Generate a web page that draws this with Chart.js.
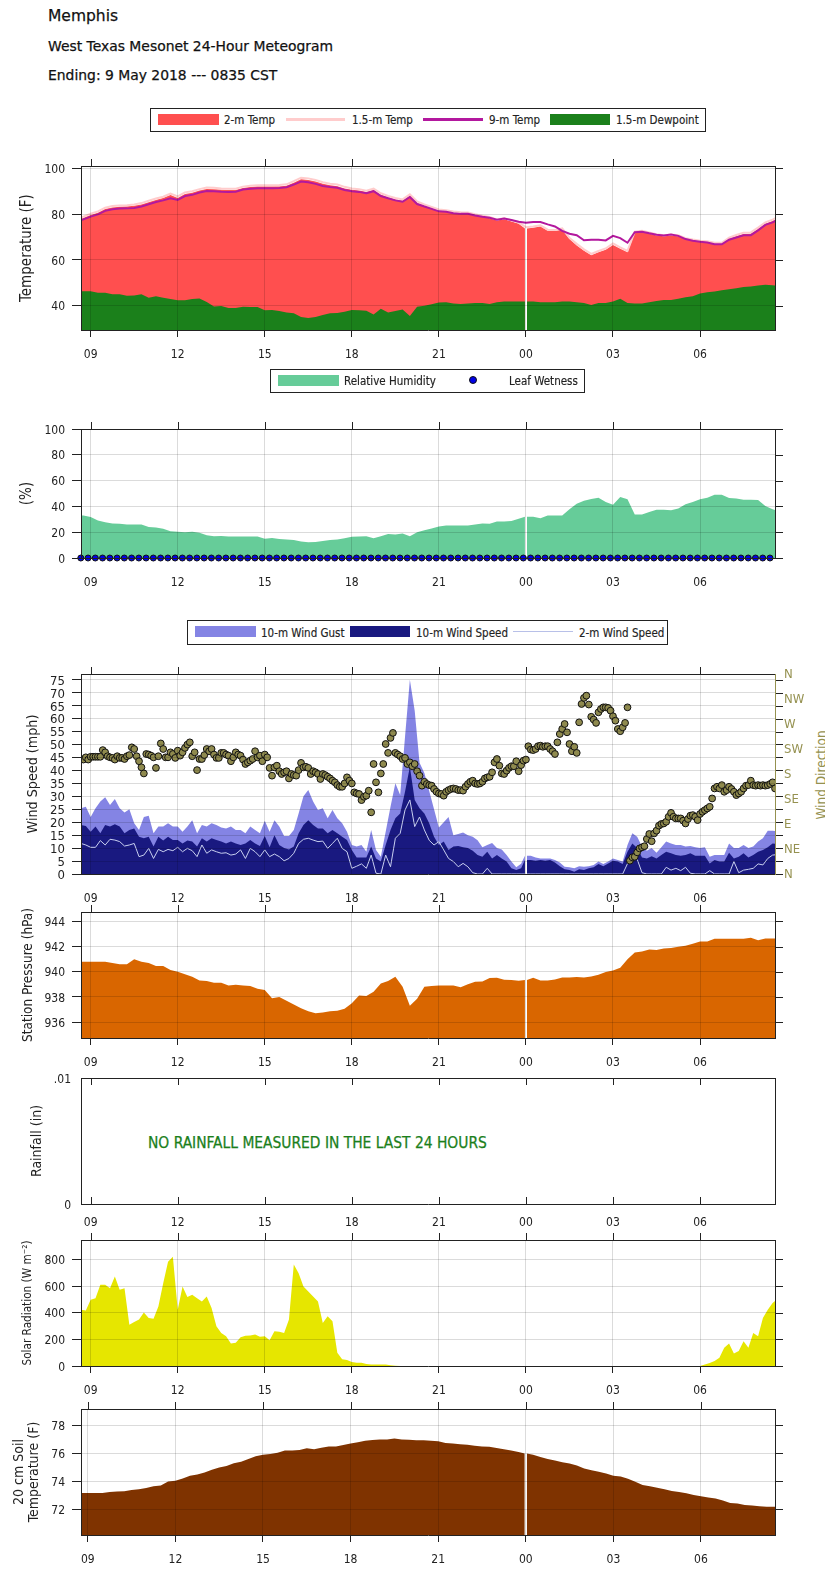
<!DOCTYPE html>
<html>
<head>
<meta charset="utf-8">
<title>Memphis 24-Hour Meteogram</title>
<script src="https://cdn.jsdelivr.net/npm/chart.js"></script>
<style>
    html, body { margin: 0; padding: 0; background: #fff; }
    body { position: relative; width: 825px; height: 1575px; overflow: hidden; color: #111;
        font-family: "DejaVu Sans Condensed", "DejaVu Sans", sans-serif; }
    canvas { position: absolute; left: 0; }
    .head { position: absolute; left: 48px; white-space: nowrap; line-height: 16px;
        font-family: "DejaVu Sans", sans-serif; -webkit-text-stroke: 0.25px #111; }
    .box { position: absolute; border: 1px solid #222; box-sizing: border-box; }
    .swatch { position: absolute; box-sizing: border-box; }
    .lg { position: absolute; font-size: 11.5px; line-height: 14px; color: #222; white-space: nowrap; -webkit-text-stroke: 0.15px #222; }
    .rain { position: absolute; left: 148px; top: 1134px; font-size: 15.4px; line-height: 18px; color: #1b801b; white-space: nowrap; -webkit-text-stroke: 0.25px #1b801b; }
    .dirtitle { position: absolute; left: 821px; top: 775px; font-size: 13.5px; color: #959150; white-space: nowrap;
        transform: translate(-50%, -50%) rotate(-90deg); }
</style>
</head>
<body>
<div class="head" style="top:8px;font-size:15.5px">Memphis</div>
<div class="head" style="top:38px;font-size:13.9px">West Texas Mesonet 24-Hour Meteogram</div>
<div class="head" style="top:67px;font-size:13.9px">Ending: 9 May 2018 --- 0835 CST</div>
<div class="rain">NO RAINFALL MEASURED IN THE LAST 24 HOURS</div>
<div class="dirtitle">Wind Direction</div>
<script>
// hour ticks, every 3 h from 09 CST
const tickLabels = ['09', '12', '15', '18', '21', '00', '03', '06']
const compass = ['N', 'NE', 'E', 'SE', 'S', 'SW', 'W', 'NW', 'N']

// 15 minute readings, one row per hour, starting 0830
const temp2m = [
    77.0,78.3,79.6,80.6, 82.2,82.9,83.2,83.3, 83.6,84.2,85.2,86.2, 87.0,88.3,87.0,88.8,
    89.3,90.3,91.0,90.9, 90.6,90.5,90.5,91.4, 91.8,92.0,92.0,92.0, 92.1,92.4,93.7,95.2,
    94.9,94.2,93.2,92.6, 92.2,91.2,90.6,90.3, 89.6,90.5,88.5,87.3, 86.4,85.8,88.0,84.9,
    83.7,82.6,81.5,81.2, 80.6,80.3,80.3,79.5, 78.9,78.2,77.2,77.7, 76.8,75.8,73.7,74.0,
    74.6,72.7,72.6,73.2, 69.1,66.3,64.0,62.0, 63.3,64.4,66.5,64.9, 63.3,71.8,72.2,71.5,
    70.7,70.3,70.6,70.3, 69.0,68.4,67.9,67.7, 67.0,67.0,69.2,70.3, 71.3,71.4,73.5,75.8,
    77.0,78.6]
const temp15m = [
    77.5,78.9,80.2,81.2, 82.8,83.5,83.8,83.9, 84.2,84.8,85.8,86.8, 87.6,89.0,87.7,89.5,
    90.0,90.9,91.6,91.5, 91.2,91.1,91.1,92.0, 92.4,92.6,92.6,92.6, 92.7,93.0,94.4,95.9,
    95.6,94.9,93.9,93.3, 92.9,91.9,91.2,90.9, 90.2,91.1,89.1,87.9, 87.0,86.4,88.6,85.5,
    84.2,83.1,82.0,81.7, 81.1,80.8,80.7,79.9, 79.3,78.7,77.7,78.2, 77.3,76.3,74.3,74.6,
    75.1,73.2,73.1,73.8, 69.6,67.0,64.6,62.6, 63.9,65.0,67.2,65.5, 63.9,72.3,72.7,72.0,
    71.2,70.8,71.1,70.8, 69.5,68.9,68.4,68.2, 67.5,67.5,69.7,70.9, 71.9,72.0,74.1,76.4,
    77.6,79.2]
const temp9m = [
    76.5,77.7,78.9,79.9, 81.4,82.1,82.4,82.5, 82.7,83.3,84.3,85.3, 86.0,86.9,86.2,87.9,
    88.4,89.4,90.1,90.0, 89.8,89.7,89.8,90.7, 91.1,91.3,91.3,91.3, 91.4,91.7,92.9,94.2,
    93.9,93.2,92.3,91.8, 91.5,90.5,90.0,89.7, 89.1,90.0,87.9,86.9, 86.0,85.4,87.5,84.4,
    83.3,82.3,81.2,81.0, 80.4,80.1,80.1,79.4, 78.8,78.4,77.5,78.1, 77.4,76.7,76.2,76.5,
    76.5,75.5,74.6,72.7, 71.4,70.8,68.6,68.8, 68.8,68.5,70.5,69.5, 67.5,72.1,72.3,71.6,
    71.0,70.7,71.1,70.5, 69.1,68.4,67.9,67.6, 66.8,66.8,68.8,69.8, 70.8,70.8,72.9,75.3,
    76.4,78.0]
const dewpoint = [
    46.3,46.3,46.3,45.7, 45.7,45.0,45.0,44.3, 44.5,45.0,43.5,44.1, 43.5,42.9,42.4,42.4,
    42.9,43.1,41.6,39.7, 39.9,39.0,39.0,39.6, 39.4,39.4,38.0,38.1, 37.7,37.0,36.7,35.1,
    34.6,35.1,36.0,36.7, 36.8,37.4,38.1,38.0, 37.8,36.2,38.7,37.0, 37.7,38.4,35.5,39.5,
    40.0,40.6,41.4,41.5, 41.0,40.8,41.0,41.2, 41.2,40.8,41.5,41.8, 41.8,41.8,41.8,41.8,
    41.5,41.5,41.5,41.8, 41.8,41.5,41.2,40.3, 41.2,41.2,41.8,43.0, 41.2,41.0,41.0,41.5,
    42.1,42.5,42.5,43.0, 43.7,44.1,45.3,45.9, 46.2,46.8,47.2,47.6, 48.2,48.4,48.8,49.2,
    48.9,48.8]
const humidity = [
    33,33,31.7,29, 27.8,26.8,26.5,26, 26,26,24,23.6, 22.6,20.8,20.3,20,
    20.3,19.5,17.7,16.9, 17.1,16.6,16.6,16.6, 16.6,16.6,15,15.6, 14.8,14.3,14,12.7,
    12.2,12.5,13.2,14, 14.3,15.3,16.4,16.6, 16.9,15.3,16.9,18.7, 18.2,19,16.9,20,
    21.6,22.9,24.4,25.2, 25.2,25.2,25.2,26, 26.8,26.5,28.3,28.3, 28.6,30.4,31.9,31.9,
    30.9,33,33,33, 37.7,42,44.4,45.7, 46.8,43.4,41.3,47.3, 45.5,33.8,33.8,35.6,
    37.4,37.4,37.1,38.4, 41.6,43.4,45.5,46.8, 49.1,49.1,46.5,46.2, 45.2,45.2,44.9,40.3,
    37.7,36.5]
const pressure = [
    940.8,940.8,940.8,940.8, 940.8,940.7,940.6,940.6, 941.0,940.8,940.7,940.45, 940.45,940.13,940.0,939.8,
    939.6,939.3,939.26,939.13, 939.13,938.9,938.97,938.9, 938.87,938.65,938.55,937.9, 938.0,937.7,937.4,937.1,
    936.85,936.7,936.75,936.85, 936.9,937.06,937.5,938.1, 938.07,938.4,939.07,939.26, 939.6,938.8,937.3,937.86,
    938.8,938.86,938.9,938.9, 938.9,938.76,939.0,939.2, 939.23,939.5,939.52,939.37, 939.34,939.29,939.34,939.52,
    939.31,939.31,939.39,939.55, 939.55,939.58,939.55,939.63, 939.76,939.97,940.1,940.32, 941.0,941.53,941.6,941.77,
    941.72,941.85,941.88,941.98, 942.06,942.22,942.4,942.4, 942.62,942.62,942.62,942.62, 942.62,942.7,942.5,942.65,
    942.65,942.65]
const soilTemp = [
    73.17,73.17,73.17,73.17, 73.17,73.25,73.27,73.3, 73.38,73.43,73.53,73.65, 73.7,74.0,74.05,74.2,
    74.4,74.5,74.64,74.83, 75.0,75.1,75.3,75.4, 75.6,75.8,75.9,75.96, 76.05,76.2,76.2,76.25,
    76.36,76.3,76.4,76.5, 76.5,76.6,76.7,76.8, 76.9,76.95,77.0,77.0, 77.07,77.0,76.98,76.93,
    76.93,76.9,76.86,76.74, 76.7,76.65,76.62,76.55, 76.5,76.48,76.39,76.3, 76.2,76.1,76.0,75.9,
    75.75,75.6,75.5,75.37, 75.28,75.13,74.92,74.8, 74.69,74.57,74.4,74.35, 74.19,73.98,73.74,73.65,
    73.55,73.43,73.31,73.24, 73.15,73.03,72.94,72.84, 72.77,72.63,72.46,72.42, 72.32,72.27,72.23,72.18,
    72.18,72.18]
const leafWetness = [
    0,0,0,0,0,0,0,0,0,0,0,0,0,0,0,0,0,0,0,0,0,0,0,0,
    0,0,0,0,0,0,0,0,0,0,0,0,0,0,0,0,0,0,0,0,0,0,0,0,
    0,0,0,0,0,0,0,0,0,0,0,0,0,0,0,0,0,0,0,0,0,0,0,0,
    0,0,0,0,0,0,0,0,0,0,0,0,0,0,0,0,0,0,0,0,0,0,0,0]

// 10 minute readings, one row per hour, starting 0830
const windGust = [
    25.4,25.4,26,22,25.4,28, 29.6,26.6,29,25.4,23.7,25, 19.6,17,22,22.5,15.7,18.3,
    18.3,19.6,18.3,18.3,16.3,18.3, 20.8,15.7,18.9,18.3,19.6,18.9, 18,17.6,18.3,17,17,15.7,
    18.3,17,15.7,20.6,16.3,20.8, 18.3,14.7,14.7,17,23.4,30, 32.4,28,24.7,25.4,21.5,24.7,
    21.5,19.6,16.3,11.2,10.6,11.2, 8.6,17,9.3,6.7,16.3,26, 35,30.5,53,75,63,43,
    39,32,25,18,20,22, 15,15.4,16,15,14.4,13, 10.3,11.2,12,10,9.5,7.3,
    4.8,2.6,4,7,7,6.4, 6,6,6,5.4,4.4,2.8, 2.6,2.2,3,2.8,3,3.5,
    4.8,3.9,4.8,6,5.4,4.8, 11.2,15.7,14.4,10.6,9,10, 8.2,10.3,12.5,11.8,11.2,11.2,
    10.6,10.8,10.3,10,10.3,6.7, 7.3,7.3,7.3,11.8,10,10, 11.2,10,10.6,12.5,13.8,16.7,
    16.7,16.5]
const windSpeed = [
    18.9,18.9,18.5,16.3,18.3,15.7, 18.9,18.3,19.2,18.3,15.7,17, 17.6,14.4,13.8,14.4,10.6,14.4,
    12.9,14.4,13.1,13.1,11.8,12.9, 12.5,10.6,13.8,12.5,13.8,13.1, 12.5,11.8,12.5,11.8,11.2,11.8,
    13.1,11.8,10.8,14.7,10.3,15, 11.2,10,9.5,10.6,15.7,18.9, 20.8,18.9,17.6,17.6,15.7,17,
    15.7,14.4,13.1,9.3,6.4,6.4, 6.4,10.6,6,4.8,11.2,17, 21.5,23.4,31.8,41.4,28.6,25.4,
    23.4,19.6,14.4,11.2,12.5,9.3, 10.6,10.8,10.3,10,9,7.3, 6.7,8.6,6,7.3,6,4.8,
    2.2,1.5,2.2,5.4,5.4,5.1, 5.4,5.1,5.4,4.4,3,1.8, 1.5,0.9,1.8,1.5,2.2,2.6,
    3.9,3,4.1,5.1,4.8,3.9, 8.6,11.8,10,6.4,6,6.9, 6,7.3,8.6,8,7.3,7,
    7.3,8,7,7,7,4.1, 5.4,4.8,4.8,8.2,6,6.7, 8,6.4,7.3,8.6,9.3,10.3,
    11.8,11.5]
const wind2m = [
    11.8,11.8,11.2,10.3,10.3,12.9, 11.2,13.4,13.1,12.5,10.8,11.2, 11.8,6.7,7.3,9.9,6,9.5,
    8.6,9.5,9,10.3,8.6,9.9, 9,6.7,11.2,8,9.3,8.6, 8,8.2,7.3,7.7,9.3,6,
    9.9,8.6,6.7,9.3,6.7,7.7, 6.7,5.1,6,8,11.8,13.4, 13.8,13.1,12.5,12.7,9.9,11.8,
    13.8,9.9,8.6,2.2,3,3.9, 2.2,7.3,0.3,0,7.3,2.8, 13.8,15.7,24.7,28.6,18.3,22,
    17,13,11.2,12.5,9.3,6, 4.8,2.8,4.1,2.8,0.5,0, 0,2.2,0,0,0,0,
    0,0,0,0,0,0, 0,0,0,0,0,0, 0,0,0,0,0,0,
    0,0,0,0,0,0, 4,6,5.7,0.5,0,0, 0,0,2.6,1.5,2.2,1.3,
    2.6,0.3,0,0,0,1.3, 0,0,0,0,4.8,0.5, 1.5,1.8,2.2,3.9,3.5,6,
    7.3,7.5]
const solar = [
    422,422,417,497,509,609, 609,584,671,571,584,310, 330,348,402,360,355,447,
    621,782,820,422,596,517, 534,509,484,522,435,298, 248,224,169,174,216,226,
    228,236,219,224,194,261, 256,248,348,762,696,596, 559,522,484,323,373,335,
    99,50,45,30,25,25, 15,12,12,12,12,5, 2,0,0,0,0,0,
    0,0,0,0,0,0, 0,0,0,0,0,0, 0,0,0,0,0,0,
    0,0,0,0,0,0, 0,0,0,0,0,0, 0,0,0,0,0,0,
    0,0,0,0,0,0, 0,0,0,0,0,0, 0,0,0,0,0,0,
    0,0,0,0,12,22, 37,62,137,169,94,112, 186,137,248,224,360,422,
    472,505]
const rainfall = []

// 5 minute wind direction in degrees, starting 0840
const windDir = [
    207,206,210,206,211,211,211,211,211,223,219,212, 210,209,206,212,209,209,207,212,214,228,225,212,
    203,192,181,216,215,213,210,191,212,235,225,210, 210,219,216,209,222,213,219,227,233,237,212,219,
    187,207,207,214,225,221,225,215,209,209,218,218, 215,213,203,210,219,215,213,206,198,201,204,207,
    221,210,213,203,215,210,191,177,192,195,185,180, 183,185,172,180,178,177,187,200,192,193,191,180,
    185,183,180,171,180,178,175,172,168,165,160,157, 157,163,174,168,163,147,145,144,133,139,141,150,
    111,198,165,147,181,198,234,218,245,254,218,215, 212,207,209,198,201,194,198,185,177,159,166,162,
    160,159,153,148,145,144,141,148,151,153,154,153, 151,151,150,157,162,166,168,163,162,163,166,172,
    174,175,183,201,207,195,181,180,186,191,194,194, 203,185,196,204,206,230,224,223,225,230,231,229,
    230,230,225,221,216,237,252,261,270,255,234,221, 229,218,273,306,317,321,305,283,278,272,291,297,
    300,300,299,294,284,276,261,257,264,272,300,24, 30,31,39,46,48,50,63,72,59,73,78,87,
    90,91,94,103,110,103,100,100,100,96,91,99, 105,106,103,97,108,112,115,118,121,136,154,157,
    154,160,148,151,157,153,148,142,145,148,154,159, 160,168,160,159,160,159,160,159,160,162,165,154,
    163]

// time lists in hours after 09 CST
const quarterHours = temp2m.map((_, i) => -0.5 + i / 4)
const tenMinHours = windGust.map((_, i) => -0.5 + i / 6)
const dirHours = windDir.map((_, i) => -1 / 3 + i / 12)
const leafHours = leafWetness.map((_, i) => -0.34 + i / 4)

const fontFamily = '"DejaVu Sans Condensed", "DejaVu Sans", sans-serif'
const textColor = '#222'
const gridColor = 'rgba(0,0,0,0.14)'
const olive = '#959150'

function points(hours, values) {
    return values.map((v, i) => ({x: hours[i], y: v}))
}

// the record has a short break at midnight
function withBreak(hours, values) {
    const out = []
    values.forEach((v, i) => {
        if (Math.abs(hours[i] - 15) < 0.001) {
            out.push({x: 14.965, y: v}, {x: 15, y: null}, {x: 15.035, y: v})
        } else {
            out.push({x: hours[i], y: v})
        }
    })
    return out
}

function area(label, data, color) {
    return {label, data, backgroundColor: color, borderWidth: 0, fill: 'start', pointRadius: 0, tension: 0, spanGaps: false}
}
function line(label, data, color, width) {
    return {label, data, borderColor: color, borderWidth: width, fill: false, pointRadius: 0, tension: 0}
}
function dots(label, data, color, radius, extra) {
    return Object.assign({label, data, showLine: false, backgroundColor: color, borderColor: '#111', borderWidth: 1, pointRadius: radius}, extra)
}

// top and right tick marks and the closed frame
const framePlugin = {
    id: 'frame',
    afterDraw(chart, args, opts) {
        const {left, right, top, bottom} = chart.chartArea
        const ctx = chart.ctx
        ctx.save()
        ctx.lineWidth = 1
        ctx.strokeStyle = '#222'
        ctx.beginPath()
        chart.scales.x.ticks.forEach(t => {
            const x = Math.round(chart.scales.x.getPixelForValue(t.value)) + 0.5
            if (opts.inward) {
                ctx.moveTo(x, top)
                ctx.lineTo(x, top + 7)
                ctx.moveTo(x, bottom)
                ctx.lineTo(x, bottom - 7)
            } else {
                ctx.moveTo(x, top - 7)
                ctx.lineTo(x, top)
            }
        })
        ctx.moveTo(left, top + 0.5)
        ctx.lineTo(right, top + 0.5)
        if (!opts.inward) {
            chart.scales.y.ticks.forEach(t => {
                const y = Math.round(chart.scales.y.getPixelForValue(t.value)) + 0.5
                ctx.moveTo(right, y)
                ctx.lineTo(right + 8, y)
            })
        }
        ctx.stroke()
        ctx.strokeStyle = opts.rightColor || '#222'
        ctx.beginPath()
        ctx.moveTo(right + 0.5, top)
        ctx.lineTo(right + 0.5, bottom + 1)
        ctx.stroke()
        ctx.restore()
    }
}

function makePanel(top, bottom, cfg) {
    const canvas = document.createElement('canvas')
    const topPad = 12
    const bottomPad = 40
    const height = bottom - top + topPad + bottomPad
    canvas.width = 825
    canvas.height = height
    canvas.style.top = (top - topPad) + 'px'
    document.body.appendChild(canvas)

    const plain = cfg.plain === true
    const xTickColor = cfg.noBottomTicks ? 'rgba(0,0,0,0)' : '#222'
    const titleSize = cfg.titleSize || 13
    const titleLine = Math.round(titleSize * 1.1)

    const scales = {
        x: {
            type: 'linear',
            min: cfg.xMin === undefined ? -0.333 : cfg.xMin,
            max: cfg.xMax === undefined ? 23.583 : cfg.xMax,
            afterFit(s) { s.height = bottomPad; s.paddingLeft = 0; s.paddingRight = 0 },
            grid: {color: gridColor, lineWidth: 1, z: 1, drawOnChartArea: !plain, drawTicks: !plain, tickLength: 7, tickColor: xTickColor, tickWidth: 1},
            border: {color: '#222', z: 2},
            ticks: {
                stepSize: 3, includeBounds: false, autoSkip: false, maxRotation: 0, minRotation: 0,
                padding: plain ? 12 : 11,
                color: textColor,
                font: {family: fontFamily, size: 12},
                callback: v => tickLabels[v / 3]
            }
        },
        y: {
            min: cfg.yMin,
            max: cfg.yMax,
            afterFit(s) { s.width = 81; s.paddingTop = 0; s.paddingBottom = 0 },
            grid: {color: gridColor, lineWidth: 1, z: 1, drawOnChartArea: !plain, drawTicks: !plain, tickLength: 9, tickColor: '#222', tickWidth: 1},
            border: {color: '#222', z: 2},
            title: {
                display: true,
                text: cfg.title,
                color: textColor,
                font: {family: fontFamily, size: titleSize, lineHeight: titleLine + 'px'},
                padding: {top: cfg.titleX - titleLine / 2, bottom: 0}
            },
            ticks: {
                stepSize: cfg.yStep, includeBounds: false, autoSkip: false,
                padding: plain ? 10 : 7,
                labelOffset: 1.5,
                color: textColor,
                font: {family: fontFamily, size: cfg.yFont || 12},
                callback: cfg.yLabel || (v => String(v))
            }
        }
    }
    if (cfg.y2) {
        scales.y2 = {
            position: 'right',
            min: 0,
            max: 360,
            afterFit(s) { s.width = 50; s.paddingTop = 0; s.paddingBottom = 0 },
            grid: {drawOnChartArea: false, drawTicks: false},
            border: {display: false},
            ticks: {
                stepSize: 45, includeBounds: false, autoSkip: false, padding: 9, labelOffset: 1,
                color: olive,
                font: {family: fontFamily, size: 13},
                callback: v => compass[v / 45]
            }
        }
    }

    return new Chart(canvas, {
        type: 'line',
        data: {datasets: cfg.datasets},
        plugins: [framePlugin],
        options: {
            responsive: false,
            animation: false,
            devicePixelRatio: 1,
            events: [],
            parsing: {xAxisKey: 'x', yAxisKey: 'y'},
            layout: {padding: {left: 0, top: topPad, right: cfg.y2 ? 0 : 50, bottom: 0}},
            scales,
            plugins: {
                legend: {display: false},
                tooltip: {enabled: false},
                title: {display: false},
                frame: {inward: plain, rightColor: cfg.y2 ? olive : null}
            }
        }
    })
}

// Chart.js paints the first dataset last, so the top layer is listed first
makePanel(166, 330, {
    yMin: 29.4, yMax: 101, yStep: 20, title: 'Temperature (F)', titleX: 27, titleSize: 15,
    datasets: [
        line('9-m Temp', points(quarterHours, temp9m), '#b3189e', 2),
        area('1.5-m Dewpoint', withBreak(quarterHours, dewpoint), '#1b801b'),
        line('1.5-m Temp', points(quarterHours, temp15m), '#ffcccc', 2),
        area('2-m Temp', withBreak(quarterHours, temp2m), '#ff4f4f')
    ]
})

makePanel(429, 558, {
    yMin: 0, yMax: 100, yStep: 20, title: '(%)', titleX: 27, titleSize: 15, noBottomTicks: true,
    datasets: [
        dots('Leaf Wetness', points(leafHours, leafWetness), '#0000e8', 3, {clip: false}),
        area('Relative Humidity', withBreak(quarterHours, humidity), '#66cc99')
    ]
})

makePanel(674, 874, {
    yMin: 0, yMax: 77.22, yStep: 5, yFont: 13, title: 'Wind Speed (mph)', titleX: 33, titleSize: 14.2,
    noBottomTicks: true, y2: true,
    datasets: [
        dots('Wind Direction', points(dirHours, windDir), '#8f8a4e', 3.4, {yAxisID: 'y2'}),
        line('2-m Wind Speed', withBreak(tenMinHours, wind2m), '#c8cff0', 1),
        area('10-m Wind Speed', withBreak(tenMinHours, windSpeed), '#191980'),
        area('10-m Wind Gust', withBreak(tenMinHours, windGust), '#8484e4')
    ]
})

makePanel(912, 1038, {
    yMin: 934.73, yMax: 944.75, yStep: 2, title: 'Station Pressure (hPa)', titleX: 28, titleSize: 13.5,
    datasets: [area('Station Pressure', withBreak(quarterHours, pressure), '#d96600')]
})

makePanel(1078, 1204, {
    plain: true,
    yMin: 0, yMax: 0.01, yStep: 0.01, title: 'Rainfall (in)', titleX: 37, titleSize: 14,
    yLabel: v => (v === 0 ? '0' : '.01'),
    datasets: [line('Rainfall', rainfall, '#1b801b', 1)]
})

makePanel(1240, 1366, {
    yMin: 0, yMax: 945, yStep: 200, title: 'Solar Radiation (W m\u207b\u00b2)', titleX: 28, titleSize: 11.7,
    datasets: [area('Solar Radiation', points(tenMinHours, solar), '#e6e600')]
})

makePanel(1409, 1535, {
    xMin: -0.233, xMax: 23.535,
    yMin: 70.17, yMax: 79.17, yStep: 2, title: ['20 cm Soil', 'Temperature (F)'], titleX: 19, titleSize: 14,
    datasets: [area('Soil Temperature', withBreak(quarterHours, soilTemp), '#7f3300')]
})

// legends sit between the panels, drawn as boxes like the original
function legend(left, top, width, height, items) {
    const box = document.createElement('div')
    box.className = 'box'
    box.style.cssText = `left:${left}px;top:${top}px;width:${width}px;height:${height}px`
    document.body.appendChild(box)
    items.forEach(it => {
        const s = document.createElement('div')
        s.className = 'swatch'
        if (it.kind !== 'dot') {
            const thick = it.kind === 'fill' ? 11 : it.thick
            const y = top + Math.round((height - thick) / 2) - 1
            s.style.cssText = `left:${it.x}px;top:${y}px;width:${it.w}px;height:${thick}px;background:${it.color}`
        } else {
            s.style.cssText = `left:${it.x - 4}px;top:${top + 7}px;width:8px;height:8px;border-radius:50%;background:${it.color};border:1px solid #111`
        }
        document.body.appendChild(s)
        const t = document.createElement('div')
        t.className = 'lg'
        t.textContent = it.text
        t.style.left = it.tx + 'px'
        t.style.top = (top + Math.round((height - 14) / 2)) + 'px'
        document.body.appendChild(t)
    })
}

legend(150, 108, 556, 24, [
    {kind: 'fill', x: 158, w: 61, color: '#ff4f4f', text: '2-m Temp', tx: 224},
    {kind: 'line', thick: 3, x: 286, w: 59, color: '#ffcccc', text: '1.5-m Temp', tx: 352},
    {kind: 'line', thick: 3, x: 423, w: 60, color: '#b3189e', text: '9-m Temp', tx: 489},
    {kind: 'fill', x: 550, w: 60, color: '#1b801b', text: '1.5-m Dewpoint', tx: 616}
])
legend(270, 369, 315, 24, [
    {kind: 'fill', x: 278, w: 61, color: '#66cc99', text: 'Relative Humidity', tx: 344},
    {kind: 'dot', x: 473, color: '#0000e8', text: 'Leaf Wetness', tx: 509}
])
legend(187, 620, 481, 25, [
    {kind: 'fill', x: 195, w: 61, color: '#8484e4', text: '10-m Wind Gust', tx: 261},
    {kind: 'fill', x: 350, w: 60, color: '#191980', text: '10-m Wind Speed', tx: 416},
    {kind: 'line', thick: 1, x: 513, w: 60, color: '#b8c0e8', text: '2-m Wind Speed', tx: 579}
])
</script>
</body>
</html>
